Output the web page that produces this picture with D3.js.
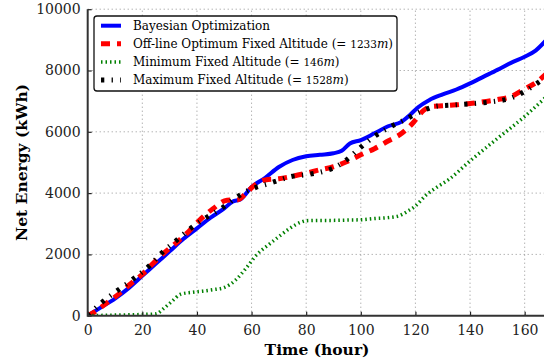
<!DOCTYPE html>
<html>
<head>
<meta charset="utf-8">
<script src="https://cdn.jsdelivr.net/npm/d3@7"></script>
<style>
  body { margin: 0; background: #fff; }
  svg { display: block; font-family: "DejaVu Serif", serif; }
</style>
</head>
<body>
<div id="chart"></div>
<script>
// time (hour) / net energy (kWh)
const bayesHours = [0, 5, 10, 15, 20, 25, 30, 35, 40, 45, 50, 53, 56, 60, 65, 70, 75, 80, 85, 90, 93, 96, 100, 105, 110, 115, 118, 121, 125, 130, 135, 140, 145, 150, 155, 160, 164, 168];
const bayesEnergy = [0, 280, 560, 900, 1300, 1700, 2100, 2500, 2850, 3200, 3500, 3720, 3800, 4200, 4500, 4850, 5080, 5200, 5250, 5300, 5380, 5620, 5730, 5950, 6180, 6330, 6550, 6800, 7030, 7220, 7380, 7580, 7800, 8020, 8250, 8450, 8650, 9000];

const optHours = [0, 3, 6, 11, 16, 20, 24, 28, 33, 37, 41, 46, 51, 55, 58, 61, 65, 70, 75, 80, 85, 90, 95, 100, 105, 110, 115, 119, 123, 126, 130, 135, 140, 145, 150, 155, 160, 164, 168];
const optEnergy = [0, 150, 350, 680, 1060, 1350, 1710, 2050, 2420, 2750, 3120, 3500, 3770, 3780, 4000, 4250, 4430, 4470, 4550, 4650, 4760, 4860, 5030, 5250, 5450, 5700, 5950, 6280, 6700, 6830, 6850, 6880, 6920, 6980, 7050, 7150, 7400, 7600, 7900];

const minHours = [0, 10, 20, 25, 28, 31, 34, 38, 42, 46, 50, 54, 58, 62, 66, 70, 74, 78, 80, 85, 90, 95, 100, 105, 110, 114, 117, 120, 124, 128, 132, 140, 150, 160, 168];
const minEnergy = [0, 20, 40, 60, 250, 480, 700, 760, 800, 850, 920, 1150, 1550, 2000, 2300, 2580, 2850, 3050, 3100, 3110, 3110, 3120, 3130, 3170, 3200, 3260, 3400, 3580, 3940, 4200, 4430, 5050, 5780, 6500, 7150];

const maxHours = [0, 5, 11, 17, 23, 27, 32, 37, 43, 49, 54, 58, 62, 66, 70, 75, 80, 85, 90, 95, 99, 105, 110, 116, 122, 128, 135, 141, 148, 155, 161, 164, 168];
const maxEnergy = [0, 420, 830, 1220, 1660, 2040, 2420, 2800, 3180, 3500, 3830, 4050, 4200, 4300, 4420, 4550, 4600, 4680, 4820, 5100, 5420, 5850, 6120, 6390, 6660, 6840, 6880, 6920, 6980, 7100, 7370, 7550, 7800];

const xTicks = [0, 20, 40, 60, 80, 100, 120, 140, 160];
const yTicks = [0, 2000, 4000, 6000, 8000, 10000];

const svgWidth = 544;
const svgHeight = 362;
const margin = { top: 9.2, left: 87.7 };
const xScale = d3.scaleLinear().domain([0, 168]).range([margin.left, margin.left + 168 * 2.731]);
const yScale = d3.scaleLinear().domain([0, 10000]).range([315.7, margin.top]);

const svg = d3.select('#chart').append('svg')
    .attr('width', svgWidth)
    .attr('height', svgHeight);

svg.append('defs').append('clipPath').attr('id', 'plot')
    .append('rect')
    .attr('x', xScale(0)).attr('y', yScale(10000))
    .attr('width', xScale(168) - xScale(0))
    .attr('height', yScale(0) - yScale(10000));

// dotted grid
const grid = svg.append('g').attr('stroke', '#000').attr('stroke-width', 0.7)
    .attr('stroke-dasharray', '1,3').attr('opacity', 0.6);
grid.selectAll('.gx').data(xTicks.slice(1)).enter().append('line')
    .attr('x1', d => xScale(d)).attr('x2', d => xScale(d))
    .attr('y1', yScale(0)).attr('y2', yScale(10000));
grid.selectAll('.gy').data(yTicks.slice(1)).enter().append('line')
    .attr('x1', xScale(0)).attr('x2', svgWidth)
    .attr('y1', d => yScale(d)).attr('y2', d => yScale(d));

const series = [
    { hours: bayesHours, energy: bayesEnergy, color: '#0000ff', width: 4, dash: null },
    { hours: optHours, energy: optEnergy, color: '#ff0000', width: 5, dash: '9,7' },
    { hours: minHours, energy: minEnergy, color: '#008000', width: 3.5, dash: '1.5,3' },
    { hours: maxHours, energy: maxEnergy, color: '#000000', width: 5, dash: '3.3,7.3,1.3,7.3' }
];

const line = d3.line()
    .x(d => xScale(d[0]))
    .y(d => yScale(d[1]))
    .curve(d3.curveMonotoneX);

const lines = svg.append('g').attr('clip-path', 'url(#plot)');
series.forEach(s => {
    lines.append('path')
        .datum(d3.zip(s.hours, s.energy))
        .attr('d', line)
        .attr('fill', 'none')
        .attr('stroke', s.color)
        .attr('stroke-width', s.width)
        .attr('stroke-dasharray', s.dash);
});

// axes
const xAxis = d3.axisBottom(xScale).tickValues(xTicks).tickSizeInner(-4).tickSizeOuter(0).tickPadding(9);
const yAxis = d3.axisLeft(yScale).tickValues(yTicks).tickFormat(d3.format('d'))
    .tickSizeInner(-4).tickSizeOuter(0).tickPadding(7);

const gX = svg.append('g').attr('transform', 'translate(0,' + yScale(0) + ')').call(xAxis);
const gY = svg.append('g').attr('transform', 'translate(' + xScale(0) + ',0)').call(yAxis);
[gX, gY].forEach(g => {
    g.select('.domain').remove();
    g.selectAll('.tick line').attr('stroke', '#222').attr('stroke-width', 1.2);
    g.selectAll('.tick text').attr('font-family', '"DejaVu Serif", serif')
        .attr('font-size', 14).attr('fill', '#222');
});
svg.append('line').attr('x1', xScale(0)).attr('x2', svgWidth)
    .attr('y1', yScale(0)).attr('y2', yScale(0))
    .attr('stroke', '#333').attr('stroke-width', 2);
svg.append('line').attr('x1', xScale(0)).attr('x2', xScale(0))
    .attr('y1', yScale(0) + 1).attr('y2', yScale(10000))
    .attr('stroke', '#333').attr('stroke-width', 2);

svg.append('text')
    .attr('x', 317).attr('y', 355)
    .attr('text-anchor', 'middle')
    .attr('font-size', 15.5).attr('font-weight', 'bold')
    .text('Time (hour)');
svg.append('text')
    .attr('transform', 'translate(26.5,' + yScale(5000) + ') rotate(-90)')
    .attr('text-anchor', 'middle')
    .attr('font-size', 15.5).attr('font-weight', 'bold')
    .text('Net Energy (kWh)');

// legend
const legendNames = ['Bayesian Optimization', 'Off-line Optimum Fixed Altitude ', 'Minimum Fixed Altitude ', 'Maximum Fixed Altitude '];
const legendAlt = [null, '1233', '146', '1528'];

const legend = svg.append('g');
legend.append('rect')
    .attr('x', 94).attr('y', 16).attr('width', 303).attr('height', 75)
    .attr('rx', 3)
    .attr('fill', '#fff').attr('stroke', '#111').attr('stroke-width', 1.3);
series.forEach((s, i) => {
    const y = 25.7 + i * 18.1;
    legend.append('line')
        .attr('x1', 101).attr('x2', 121).attr('y1', y).attr('y2', y)
        .attr('stroke', s.color).attr('stroke-width', s.width)
        .attr('stroke-dasharray', s.dash);
    const t = legend.append('text')
        .attr('x', 133).attr('y', y + 4.2)
        .attr('font-size', 12)
        .text(legendNames[i]);
    if (legendAlt[i]) {
        t.append('tspan').text('(= ');
        t.append('tspan').attr('font-size', 10.5).text(legendAlt[i]);
        t.append('tspan').attr('font-style', 'italic').text('m');
        t.append('tspan').text(')');
    }
});
</script>
</body>
</html>
